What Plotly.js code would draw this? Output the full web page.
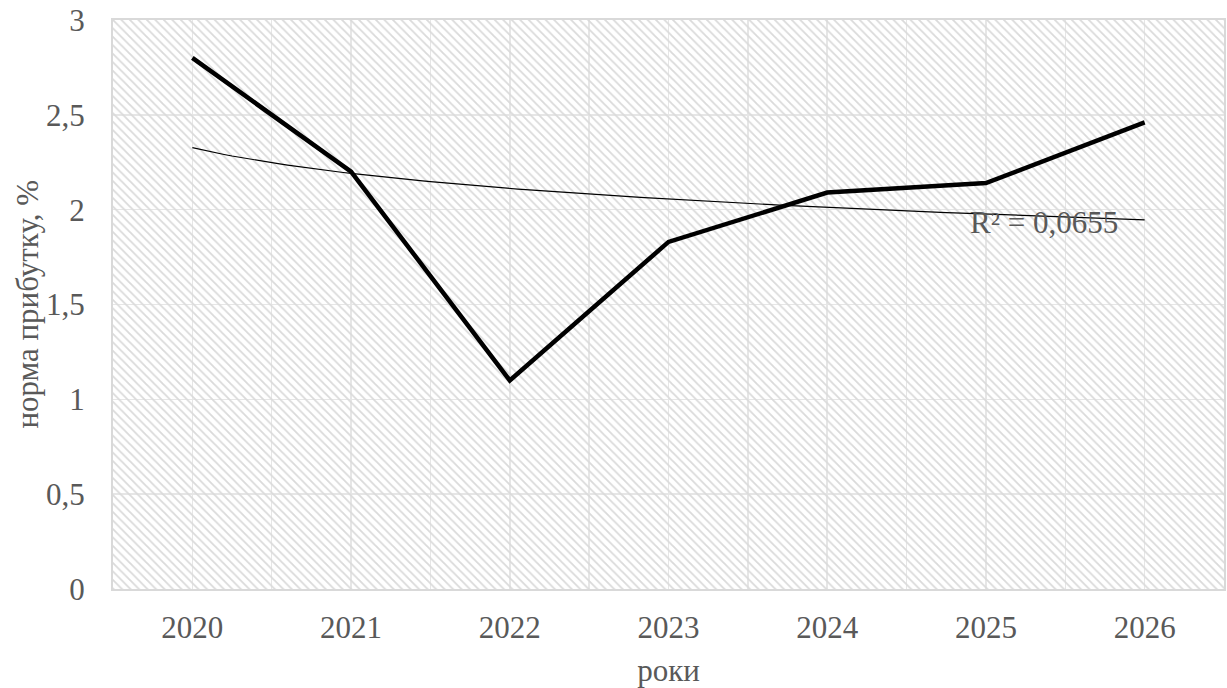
<!DOCTYPE html>
<html>
<head>
<meta charset="utf-8">
<script src="https://cdn.plot.ly/plotly-3.0.1.min.js"></script>
<style>
  html, body { margin: 0; padding: 0; background: #fff; }
  #chart { width: 1227px; height: 688px; }
</style>
</head>
<body>
<div id="chart"></div>
<script>
// Норма прибутку за роками
const years = [2020, 2021, 2022, 2023, 2024, 2025, 2026];
const profitRate = [2.8, 2.2, 1.1, 1.83, 2.09, 2.14, 2.46];
const yTickVals = [0, 0.5, 1, 1.5, 2, 2.5, 3];
const yTickText = ['0', '0,5', '1', '1,5', '2', '2,5', '3'];
const r2Label = 'R² = 0,0655';
const xTitle = 'роки';
const yTitle = 'норма прибутку, %';

const xRange = [years[0] - 0.5, years[years.length - 1] + 0.5];
const yRange = [0, 3];

// Logarithmic trend y = a·ln(n) + b, n = 1..N, fitted by least squares
const n = years.map((_, i) => i + 1);
const lnN = n.map(Math.log);
const mx = lnN.reduce((s, v) => s + v, 0) / lnN.length;
const my = profitRate.reduce((s, v) => s + v, 0) / profitRate.length;
let sxy = 0, sxx = 0;
lnN.forEach((v, i) => { sxy += (v - mx) * (profitRate[i] - my); sxx += (v - mx) * (v - mx); });
const a = sxy / sxx;
const b = my - a * mx;
const trendX = [], trendY = [];
const steps = 120;
for (let k = 0; k <= steps; k++) {
  const t = 1 + (n.length - 1) * k / steps;
  trendX.push(years[0] + t - 1);
  trendY.push(a * Math.log(t) + b);
}

const fontFamily = 'Liberation Serif, Times New Roman, serif';
const textColor = '#595959';
const gridColor = '#e6e6e6';

// Hatched background of the plotting area
const hatch = {
  x: [xRange[0], xRange[1], xRange[1], xRange[0], xRange[0]],
  y: [yRange[0], yRange[0], yRange[1], yRange[1], yRange[0]],
  mode: 'lines',
  line: { width: 0, color: 'rgba(0,0,0,0)' },
  fill: 'toself',
  fillcolor: 'rgba(0,0,0,0)',
  fillpattern: { shape: '\\', fgcolor: '#dadada', bgcolor: 'rgba(0,0,0,0)', size: 6, solidity: 0.3 },
  hoverinfo: 'skip',
  showlegend: false
};

const main = {
  x: years,
  y: profitRate,
  mode: 'lines',
  line: { color: '#000000', width: 4.5 },
  showlegend: false
};

const trend = {
  x: trendX,
  y: trendY,
  mode: 'lines',
  line: { color: '#000000', width: 1.2 },
  hoverinfo: 'skip',
  showlegend: false
};

const layout = {
  width: 1227,
  height: 688,
  margin: { l: 113, r: 3, t: 20, b: 99 },
  paper_bgcolor: '#ffffff',
  plot_bgcolor: '#ffffff',
  font: { family: fontFamily, size: 31, color: textColor },
  showlegend: false,
  xaxis: {
    range: xRange,
    tickvals: years,
    ticktext: years.map(String),
    showgrid: true,
    gridcolor: gridColor,
    gridwidth: 1.5,
    minor: { dtick: 0.5, tick0: xRange[0], showgrid: true, gridcolor: gridColor, gridwidth: 1.5 },
    zeroline: false,
    showline: true,
    linecolor: '#d9d9d9',
    linewidth: 2,
    mirror: true,
    ticks: 'outside',
    ticklen: 10,
    tickcolor: 'rgba(0,0,0,0)',
    tickfont: { family: fontFamily, size: 31, color: textColor },
    title: { text: xTitle, font: { family: fontFamily, size: 31, color: textColor }, standoff: 15 }
  },
  yaxis: {
    range: yRange,
    tickvals: yTickVals,
    ticktext: yTickText,
    showgrid: true,
    gridcolor: gridColor,
    gridwidth: 1.5,
    zeroline: false,
    showline: true,
    linecolor: '#d9d9d9',
    linewidth: 2,
    mirror: true,
    ticks: 'outside',
    ticklen: 20,
    tickcolor: 'rgba(0,0,0,0)',
    tickfont: { family: fontFamily, size: 31, color: textColor }
  },
  annotations: [
    {
      text: yTitle,
      xref: 'paper', yref: 'paper',
      x: (27 - 113) / 1111, y: 0.5,
      xanchor: 'center', yanchor: 'middle',
      textangle: -90,
      showarrow: false,
      font: { family: fontFamily, size: 31, color: textColor }
    },
    {
      text: r2Label,
      xref: 'paper', yref: 'paper',
      x: (1044 - 113) / 1111, y: (589 - 222) / 569,
      xanchor: 'center', yanchor: 'middle',
      showarrow: false,
      font: { family: fontFamily, size: 31, color: textColor }
    }
  ]
};

Plotly.newPlot('chart', [hatch, trend, main], layout, { displayModeBar: false, staticPlot: true });
</script>
</body>
</html>
